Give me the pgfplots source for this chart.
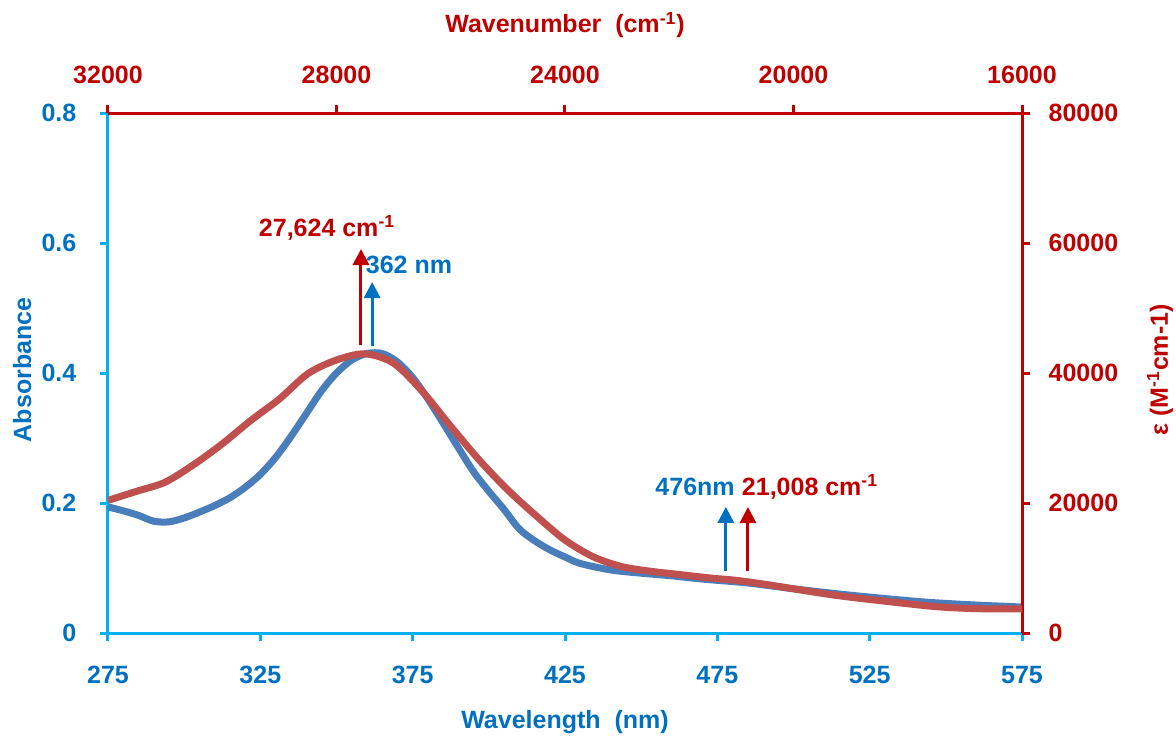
\documentclass[border=0pt]{standalone}
\usepackage{fontspec}
\setmainfont{Liberation Sans}
\usepackage{pgfplots}
\pgfplotsset{compat=1.18}
\usetikzlibrary{arrows.meta}
\definecolor{tblue}{HTML}{0070C0}
\definecolor{lblue}{HTML}{00B0F0}
\definecolor{dred}{HTML}{C00000}
\definecolor{cblue}{HTML}{4A7EBB}
\definecolor{cred}{HTML}{C0504D}
\newcommand\lf{\fontsize{12.5}{15}\selectfont\bfseries}

\pgfplotstableread{
lambda A
275 0.194
280 0.188
285 0.181
290 0.172
295 0.171
300 0.177
305 0.186
310 0.196
315 0.208
320 0.224
325 0.244
330 0.270
335 0.302
340 0.337
345 0.372
350 0.400
355 0.420
360 0.430
365 0.430
370 0.417
375 0.393
380 0.360
385 0.323
390 0.285
395 0.248
400 0.218
405 0.190
410 0.160
415 0.142
420 0.128
425 0.117
430 0.107
440 0.097
450 0.092
460 0.088
470 0.083
485 0.077
500 0.068
515 0.060
530 0.053
545 0.047
560 0.043
575 0.040
}\absdata

\pgfplotstableread{
nu eps
32000 20400
31500 21800
31000 23200
30500 25900
30000 29100
29500 32700
29000 36000
28500 39900
28000 42000
27500 42950
27000 41500
26500 37200
26000 31800
25500 26600
25000 22000
24500 18000
24000 14300
23500 11700
23000 10200
22500 9500
22000 9000
21500 8500
21000 8100
20500 7500
20000 6800
19500 6100
19000 5500
18500 5000
18000 4500
17500 4050
17000 3800
16500 3700
16000 3700
}\epsdata

\begin{document}
\begin{tikzpicture}
\useasboundingbox (-54pt,-53.5pt) rectangle (534pt,316.5pt);
\begin{axis}[
  scale only axis, width=457pt, height=260pt,
  xmin=275, xmax=575, ymin=0, ymax=0.8,
  axis x line=bottom, axis y line=left,
  axis line style={-, lblue, line width=1.5pt},
  xtick={275,325,...,575}, ytick={0,0.2,0.4,0.6,0.8},
  tick align=outside, major tick length=4pt,
  tick style={lblue, line width=1.5pt},
  tick label style={font=\lf, color=tblue},
  /pgf/number format/assume math mode=true,
  yticklabel style={/pgf/number format/fixed, /pgf/number format/precision=1, xshift=-8.3pt},
  xticklabel style={yshift=-9pt},
  xlabel={Wavelength\ \ (nm)}, ylabel={Absorbance},
  label style={font=\lf, color=tblue},
  xlabel style={at={(axis description cs:0.5,-0.171)}, anchor=center},
  ylabel style={at={(axis description cs:-0.094,0.506)}, anchor=center},
]
\addplot[cblue, line width=3.5pt, smooth] table[x=lambda, y=A] {\absdata};
\draw[tblue, line width=1.5pt, -{Triangle[width=8pt,length=8pt]}] (axis cs:361.7,0.4415) -- (axis cs:361.7,0.54);
\draw[tblue, line width=1.5pt, -{Triangle[width=8pt,length=8pt]}] (axis cs:477.8,0.0954) -- (axis cs:477.8,0.194);
\node[font=\lf, color=tblue, anchor=center] at (axis cs:373.8,0.566) {362 nm};
\node[font=\lf, color=tblue, anchor=center] at (axis cs:467.7,0.2246) {476nm};
\end{axis}
\begin{axis}[
  scale only axis, width=457pt, height=260pt,
  xmin=16000, xmax=32000, x dir=reverse, ymin=0, ymax=80000,
  axis x line=top, axis y line=right,
  axis line style={-, dred, line width=1.5pt},
  xtick={16000,20000,...,32000}, ytick={0,20000,...,80000},
  tick align=outside, major tick length=4pt,
  tick style={dred, line width=1.5pt},
  tick label style={font=\lf, color=dred},
  scaled ticks=false,
  /pgf/number format/1000 sep={},
  /pgf/number format/assume math mode=true,
  yticklabel style={xshift=5.8pt},
  xticklabel style={yshift=7.3pt},
  xlabel={Wavenumber\ \ (cm\textsuperscript{-1})}, ylabel={ε (M\textsuperscript{-1}cm-1)},
  label style={font=\lf, color=dred},
  xlabel style={at={(axis description cs:0.5,1.169)}, anchor=center},
  ylabel style={at={(axis description cs:1.151,0.506)}, anchor=center, rotate=0},
]
\addplot[cred, line width=3.5pt, smooth] table[x=nu, y=eps] {\epsdata};
\draw[dred, line width=1.5pt, -{Triangle[width=8pt,length=8pt]}] (axis cs:27571,44308) -- (axis cs:27571,59077);
\draw[dred, line width=1.5pt, -{Triangle[width=8pt,length=8pt]}] (axis cs:20797,9538) -- (axis cs:20797,19385);
\node[font=\lf, color=dred, anchor=center] at (axis cs:28166,62308) {27,624 cm\textsuperscript{-1}};
\node[font=\lf, color=dred, anchor=center] at (axis cs:19711,22462) {21,008 cm\textsuperscript{-1}};
\end{axis}
\end{tikzpicture}
\end{document}
